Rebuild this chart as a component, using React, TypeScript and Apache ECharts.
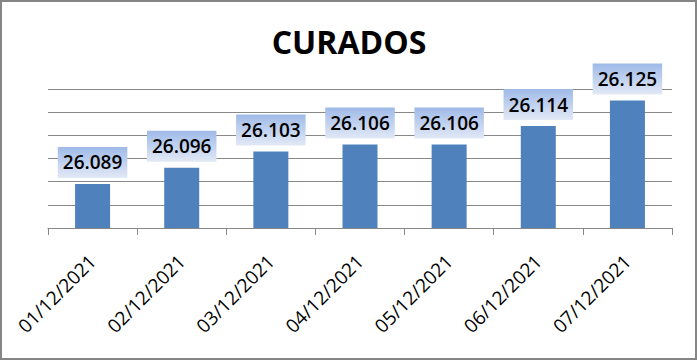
import React, { useEffect, useRef } from "react";
import * as echarts from "echarts";

const categories = [
  "01/12/2021",
  "02/12/2021",
  "03/12/2021",
  "04/12/2021",
  "05/12/2021",
  "06/12/2021",
  "07/12/2021",
];
const curados = [26089, 26096, 26103, 26106, 26106, 26114, 26125];
const titleText = "CURADOS";

const fmt = (v: number) => {
  const s = String(Math.round(v));
  return s.replace(/\B(?=(\d{3})+(?!\d))/g, ".");
};

export default function App() {
  const ref = useRef<HTMLDivElement>(null);
  useEffect(() => {
    if (!ref.current) return;
    const chart = echarts.init(ref.current, null, { renderer: "svg" });
    chart.setOption({
      animation: false,
      backgroundColor: "#ffffff",
      title: {
        text: titleText,
        left: "center",
        top: 20,
        textStyle: {
          fontFamily: "Open Sans",
          fontWeight: "bold",
          fontSize: 32,
          color: "#000000",
        },
      },
      graphic: [
        {
          type: "rect",
          shape: { x: 1, y: 1, width: 695, height: 358 },
          style: { fill: "none", stroke: "#868686", lineWidth: 2 },
          z: 100,
        },
      ],
      grid: { left: 48, right: 26, top: 89, bottom: 133 },
      xAxis: {
        type: "category",
        data: categories,
        boundaryGap: true,
        axisLine: { show: true, lineStyle: { color: "#888888", width: 1 } },
        axisTick: {
          show: true,
          alignWithLabel: false,
          length: 7,
          lineStyle: { color: "#888888" },
        },
        axisLabel: {
          rotate: 45,
          margin: 30,
          interval: 0,
          fontFamily: "Open Sans",
          fontSize: 19,
          color: "#000000",
        },
      },
      yAxis: {
        type: "value",
        min: 26070,
        max: 26130,
        interval: 10,
        axisLine: { show: false },
        axisTick: { show: false },
        axisLabel: { show: false },
        splitLine: { show: true, lineStyle: { color: "#888888", width: 1 } },
      },
      series: [
        {
          type: "bar",
          data: curados,
          barWidth: 35,
          itemStyle: { color: "#4F81BD" },
          label: {
            show: true,
            position: "top",
            distance: 6,
            formatter: (p: any) => fmt(p.value),
            fontFamily: "Open Sans",
            fontWeight: 600,
            fontSize: 19,
            color: "#000000",
            padding: [6, 5, 6, 5],
            backgroundColor: new echarts.graphic.LinearGradient(0, 0, 0, 1, [
              { offset: 0, color: "#9fbae8" },
              { offset: 1, color: "#e2e9f6" },
            ]),
          },
        },
      ],
    });
    return () => chart.dispose();
  }, []);
  return (
    <div
      ref={ref}
      style={{ position: "absolute", left: 0, top: 0, width: 698, height: 361 }}
    />
  );
}
